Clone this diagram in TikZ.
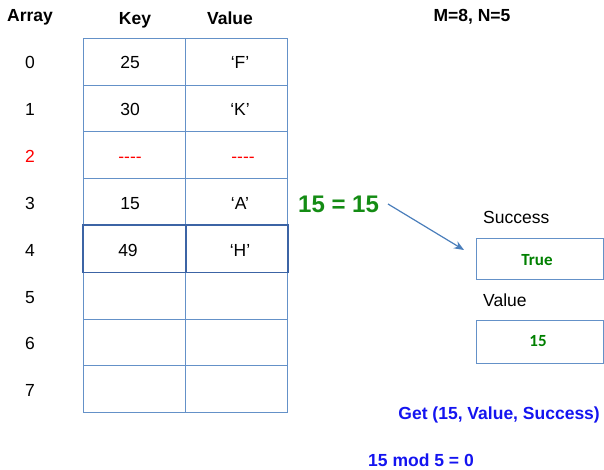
\documentclass[tikz,border=0pt]{standalone}
\usepackage{fontspec}
\setmainfont{Liberation Sans}
\newfontfamily\calfont{Carlito}
\usetikzlibrary{arrows.meta}
\definecolor{gridblue}{RGB}{100,145,200}
\definecolor{darkgrid}{RGB}{60,100,165}
\definecolor{arrowblue}{RGB}{74,126,187}
\definecolor{eqgreen}{RGB}{20,140,20}
\definecolor{boxgreen}{RGB}{0,128,0}
\definecolor{txtblue}{RGB}{20,20,240}
\begin{document}
\begin{tikzpicture}[x=1pt,y=-1pt,
  cell/.style={draw=gridblue, line width=1pt, minimum width=102pt, minimum height=46.75pt, inner sep=0pt, anchor=north west},
  outbox/.style={draw=gridblue, line width=1pt, minimum width=127pt, inner sep=0pt, anchor=north west},
  txt/.style={font=\fontsize{17.5}{20}\selectfont, inner sep=0pt, anchor=base},
  hdr/.style={txt, font=\fontsize{17.5}{20}\selectfont\bfseries},
  redtxt/.style={txt, text=red},
  arr/.style={draw=arrowblue, line width=1.2pt, -{Stealth[length=10pt,width=8pt]}}]
\useasboundingbox (0,0) rectangle (604,470);
% table cells
\foreach \i in {0,...,7} {
  \node[cell] (k\i) at (83,{38+46.75*\i}) {};
  \node[cell] (v\i) at (185,{38+46.75*\i}) {};
}
\draw[draw=darkgrid, line width=1.2pt] (k4.north west) rectangle (v4.south east);
\draw[draw=darkgrid, line width=1.2pt] (k4.north east) -- (k4.south east);
% headers
\node[hdr] (harr) at (30,21.5) {Array};
\node[hdr] (hkey) at (135,25) {Key};
\node[hdr] (hval) at (230,25) {Value};
\node[hdr] (mn) at (472,21.5) {M=8, N=5};
% indices
\node[txt] (i0) at (30,69) {0};
\node[txt] (i1) at (30,115.8) {1};
\node[redtxt] (i2) at (30,162.6) {2};
\node[txt] (i3) at (30,209.4) {3};
\node[txt] (i4) at (30,256.2) {4};
\node[txt] (i5) at (30,303) {5};
\node[txt] (i6) at (30,349.8) {6};
\node[txt] (i7) at (30,396.6) {7};
% keys
\node[txt] (t0k) at (130,69) {25};
\node[txt] (t1k) at (130,115.8) {30};
\node[redtxt] (t2k) at (130,162.6) {{-}{-}{-}{-}};
\node[txt] (t3k) at (130,209.4) {15};
\node[txt] (t4k) at (128,256.2) {49};
% values
\node[txt] (t0v) at (240,69) {‘F’};
\node[txt] (t1v) at (240,115.8) {‘K’};
\node[redtxt] (t2v) at (243,162.6) {{-}{-}{-}{-}};
\node[txt] (t3v) at (240,209.4) {‘A’};
\node[txt] (t4v) at (240,256.2) {‘H’};
% comparison
\node[inner sep=0pt, anchor=base west, font=\fontsize{24}{28}\selectfont\bfseries, text=eqgreen] (eq) at (298,213) {15 = 15};
\coordinate (as) at (388,204);
\coordinate (ae) at (464,250);
\draw[arr] (as) -- (ae);
% output boxes
\node[txt, anchor=base west] (lsucc) at (483,223.3) {Success};
\node[outbox, minimum height=41pt] (tbox) at (476,238) {};
\node[txt, font=\calfont\fontsize{17}{20}\selectfont\bfseries, text=boxgreen] (ttrue) at (537,265) {True};
\node[txt, anchor=base west] (lval) at (483,306) {Value};
\node[outbox, minimum height=43pt] (vbox) at (476,320) {};
\node[txt, font=\calfont\fontsize{17}{20}\selectfont\bfseries, text=boxgreen] (tval) at (538,346.7) {15};
% bottom texts
\node[hdr, anchor=base east, text=txtblue] (get) at (600,419) {Get (15, Value, Success)};
\node[hdr, anchor=base west, text=txtblue] (mod) at (368,466.5) {15 mod 5 = 0};
\end{tikzpicture}
\end{document}
